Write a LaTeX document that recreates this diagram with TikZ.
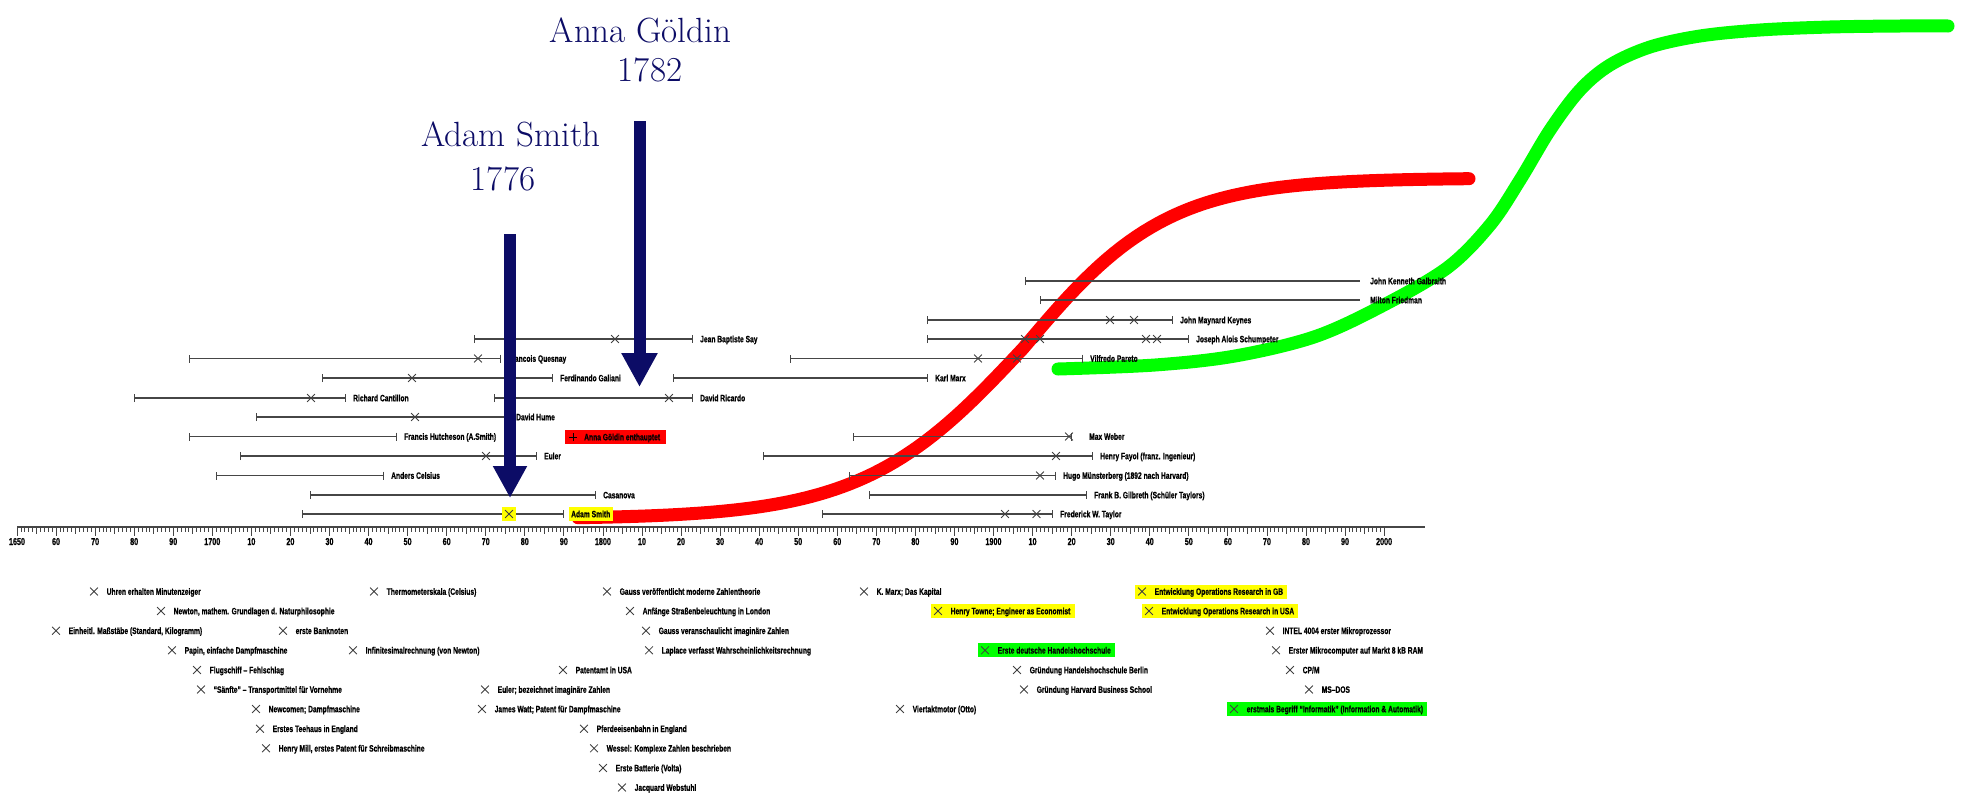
\documentclass[tikz,border=0pt]{standalone}
\usepackage{fontspec}
\newfontfamily\lblfont{Liberation Sans}[FakeStretch=0.72, FakeBold=0.6]
\usetikzlibrary{arrows.meta,shapes.misc,calc,backgrounds}
\definecolor{navy}{RGB}{12,12,102}
\definecolor{barcol}{RGB}{70,70,70}
\definecolor{hlyellow}{RGB}{255,255,0}
\definecolor{hlgreen}{RGB}{0,255,0}
\definecolor{hlred}{RGB}{255,0,0}
\tikzset{
  barline/.style={draw=barcol, line width=1.4pt, arrows={Bar[width=8pt]-Bar[width=8pt]}},
  openbar/.style={draw=barcol, line width=1.4pt, arrows={Bar[width=8pt]-}},
  xmark/.style={cross out, draw=black!75, line width=0.8pt, minimum size=7pt, inner sep=0pt},
  lbl/.style={font=\lblfont\bfseries\fontsize{9.3}{11}\selectfont, inner sep=0pt, anchor=base west},
  axlbl/.style={font=\lblfont\bfseries\fontsize{10}{12}\selectfont, inner sep=0pt, anchor=base},
  tick/.style={draw=barcol, line width=0.8pt},
  axisline/.style={draw=barcol, line width=2pt},
  titletext/.style={font=\fontsize{35}{40}\selectfont, text=navy, inner sep=0pt, anchor=base},
  navyarrow/.style={draw=navy, line width=12pt, arrows={-Triangle[width=34pt,length=34pt]}},
  scurve/.style={line width=13pt, line cap=round, line join=round},
}
% life span bar: name, start x, end x, row y, label
\newcommand{\lifebar}[5]{%
  \coordinate (#1-s) at (#2,#4);
  \coordinate (#1-e) at (#3,#4);
  \draw[barline] (#1-s) -- (#1-e);
  \node[lbl] (#1) at ($(#1-e)+(7,3.3)$) {#5};}
% cross mark on a bar
\newcommand{\mk}[3]{\node[xmark] (#1) at (#2,#3) {};}
% event: name, x, y, text
\newcommand{\evt}[4]{%
  \node[xmark] (#1-x) at (#2,#3) {};
  \node[lbl] (#1) at ($(#1-x)+(12.5,3.3)$) {#4};}
% highlighted background behind an event
\newcommand{\hl}[2]{%
  \begin{scope}[on background layer]
    \fill[#2] ($(#1-x)+(-7.5,-7)$) rectangle ($(#1-x -| #1.east)+(4,7)$);
  \end{scope}}
\begin{document}
\begin{tikzpicture}[x=1pt,y=-1pt]
\useasboundingbox (0,0) rectangle (1961,795);
\begin{scope}[on background layer]
  \fill[white] (0,0) rectangle (1961,795);
\end{scope}

% growth curves (logistic shapes)
\draw[scurve, draw=hlred]
  plot[domain=578:1023, samples=60] (\x,{519-341/(1+exp(-(\x-1023)/80))})
  -- plot[domain=1023:1469, samples=60] (\x,{519-341/(1+exp(-(\x-1023)/72))});
\draw[scurve, draw=hlgreen] plot[smooth, tension=0.55] coordinates {
  (1058,369) (1155,365) (1235,356) (1314,337) (1380,307) (1447,268)
  (1490,225) (1520,180) (1550,130) (1580,90) (1610,65) (1650,47)
  (1700,36) (1760,30) (1830,27) (1900,26) (1948,26)};

% time axis
\coordinate (ax-s) at (17,526.5);
\coordinate (ax-e) at (1425,526.5);
\draw[axisline] (ax-s) -- (ax-e);
\foreach \i in {0,...,350} \draw[tick] ({17+\i*3.906},527) -- ++(0,4.5);
\foreach \i in {0,5,...,350} \draw[tick] ({17+\i*3.906},527) -- ++(0,6.5);
\foreach \i in {0,10,...,350} \draw[tick] ({17+\i*3.906},527) -- ++(0,8.5);
\foreach \d/\t in {0/1650,1/60,2/70,3/80,4/90,5/1700,6/10,7/20,8/30,9/40,10/50,11/60,12/70,13/80,14/90,
  15/1800,16/10,17/20,18/30,19/40,20/50,21/60,22/70,23/80,24/90,
  25/1900,26/10,27/20,28/30,29/40,30/50,31/60,32/70,33/80,34/90,35/2000}
  \node[axlbl] (yr\d) at ({17+\d*39.06},545) {\t};

% life spans
\draw[openbar] (1025,281) coordinate (galbraith-s) -- (1360,281) coordinate (galbraith-e);
\node[lbl] (galbraith) at ($(galbraith-e)+(10,3.3)$) {John Kenneth Galbraith};
\draw[openbar] (1040,300) coordinate (friedman-s) -- (1360,300) coordinate (friedman-e);
\node[lbl] (friedman) at ($(friedman-e)+(10,3.3)$) {Milton Friedman};
\lifebar{keynes}{927}{1173}{320}{John Maynard Keynes}
\mk{keynes-m1}{1110}{320}\mk{keynes-m2}{1134}{320}
\lifebar{say}{474}{693}{339}{Jean Baptiste Say}
\mk{say-m1}{615}{339}
\lifebar{schumpeter}{927}{1189}{339}{Joseph Alois Schumpeter}
\mk{schumpeter-m1}{1025}{339}\mk{schumpeter-m2}{1040}{339}
\mk{schumpeter-m3}{1146}{339}\mk{schumpeter-m4}{1157}{339}
\lifebar{quesnay}{189}{501}{358.5}{Francois Quesnay}
\mk{quesnay-m1}{478}{358.5}
\lifebar{pareto}{790}{1083}{358.5}{Vilfredo Pareto}
\mk{pareto-m1}{978}{358.5}\mk{pareto-m2}{1017}{358.5}
\lifebar{galiani}{322}{553}{378}{Ferdinando Galiani}
\mk{galiani-m1}{412}{378}
\lifebar{marx}{673}{928}{378}{Karl Marx}
\lifebar{cantillon}{134}{346}{398}{Richard Cantillon}
\mk{cantillon-m1}{311}{398}
\lifebar{ricardo}{494}{693}{398}{David Ricardo}
\mk{ricardo-m1}{669}{398}
\lifebar{hume}{256}{509}{417}{David Hume}
\mk{hume-m1}{415}{417}
\lifebar{hutcheson}{189}{397}{436.5}{Francis Hutcheson (A.Smith)}
\coordinate (weber-s) at (853,436.5);
\coordinate (weber-e) at (1072,436.5);
\draw[barline] (weber-s) -- (weber-e);
\mk{weber-m1}{1069}{436.5}
\node[lbl] (weber) at ($(weber-e)+(17,3.3)$) {Max Weber};
\lifebar{euler}{240}{537}{456}{Euler}
\mk{euler-m1}{486}{456}
\lifebar{fayol}{763}{1093}{456}{Henry Fayol (franz. Ingenieur)}
\mk{fayol-m1}{1056}{456}
\lifebar{celsius}{216}{384}{475.5}{Anders Celsius}
\lifebar{muenster}{849}{1056}{475.5}{Hugo Münsterberg (1892 nach Harvard)}
\mk{muenster-m1}{1040}{475.5}
\lifebar{casanova}{310}{596}{495}{Casanova}
\lifebar{gilbreth}{868.5}{1087}{495}{Frank B. Gilbreth (Schüler Taylors)}
\coordinate (smith-s) at (302,514);
\coordinate (smith-e) at (564,514);
\draw[barline] (smith-s) -- (smith-e);
\node[fill=hlyellow, minimum size=14pt, inner sep=0pt] (smith-hx) at (509,514) {};
\mk{smith-m1}{509}{514}
\node[fill=hlyellow, minimum width=44pt, minimum height=14pt, inner sep=0pt, anchor=west] (smith-hb) at (569,514) {};
\node[lbl] (smith) at (571,517.3) {Adam Smith};
\lifebar{taylor}{822}{1053}{514}{Frederick W. Taylor}
\mk{taylor-m1}{1005}{514}\mk{taylor-m2}{1036.5}{514}

% execution of Anna Göldin
\node[fill=hlred, minimum width=101pt, minimum height=14pt, inner sep=0pt, anchor=north west] (goeldin-box) at (565,430) {};
\coordinate (goeldin-p) at (573,437);
\draw[black, line width=0.8pt] ($(goeldin-p)+(-4,0)$) -- ($(goeldin-p)+(4,0)$)
  ($(goeldin-p)+(0,-4)$) -- ($(goeldin-p)+(0,4)$);
\node[lbl] (goeldin) at (584,440.3) {Anna Göldin enthauptet};

% events below the axis
\evt{e-uhren}{94}{591.5}{Uhren erhalten Minutenzeiger}
\evt{e-newton}{161}{611}{Newton, mathem. Grundlagen d. Naturphilosophie}
\evt{e-mass}{56}{630.7}{Einheitl. Maßstäbe (Standard, Kilogramm)}
\evt{e-bank}{283}{630.7}{erste Banknoten}
\evt{e-papin}{172}{650.3}{Papin, einfache Dampfmaschine}
\evt{e-infin}{353}{650.3}{Infinitesimalrechnung (von Newton)}
\evt{e-flug}{197}{670}{Flugschiff – Fehlschlag}
\evt{e-saenfte}{201}{689.5}{“Sänfte” – Transportmittel für Vornehme}
\evt{e-newcomen}{256}{709}{Newcomen; Dampfmaschine}
\evt{e-tee}{260}{728.7}{Erstes Teehaus in England}
\evt{e-mill}{266}{748.3}{Henry Mill, erstes Patent für Schreibmaschine}
\evt{e-thermo}{374}{591.5}{Thermometerskala (Celsius)}
\evt{e-patent}{563}{670}{Patentamt in USA}
\evt{e-euler}{485}{689.5}{Euler; bezeichnet imaginäre Zahlen}
\evt{e-watt}{482}{709}{James Watt; Patent für Dampfmaschine}
\evt{e-pferd}{584}{728.7}{Pferdeeisenbahn in England}
\evt{e-wessel}{594}{748.3}{Wessel: Komplexe Zahlen beschrieben}
\evt{e-volta}{603}{768}{Erste Batterie (Volta)}
\evt{e-jacq}{622}{787.5}{Jacquard Webstuhl}
\evt{e-gauss1}{607}{591.5}{Gauss veröffentlicht moderne Zahlentheorie}
\evt{e-licht}{630}{611}{Anfänge Straßenbeleuchtung in London}
\evt{e-gauss2}{646}{630.7}{Gauss veranschaulicht imaginäre Zahlen}
\evt{e-laplace}{649}{650.3}{Laplace verfasst Wahrscheinlichkeitsrechnung}
\evt{e-marx}{864}{591.5}{K. Marx; Das Kapital}
\evt{e-towne}{938}{611}{Henry Towne; Engineer as Economist}
\evt{e-hhs}{985}{650.3}{Erste deutsche Handelshochschule}
\evt{e-berlin}{1017}{670}{Gründung Handelshochschule Berlin}
\evt{e-harvard}{1024}{689.5}{Gründung Harvard Business School}
\evt{e-otto}{900}{709}{Viertaktmotor (Otto)}
\evt{e-orgb}{1142}{591.5}{Entwicklung Operations Research in GB}
\evt{e-orusa}{1149}{611}{Entwicklung Operations Research in USA}
\evt{e-intel}{1270}{630.7}{INTEL 4004 erster Mikroprozessor}
\evt{e-micro}{1276}{650.3}{Erster Mikrocomputer auf Markt 8 kB RAM}
\evt{e-cpm}{1290}{670}{CP/M}
\evt{e-msdos}{1309}{689.5}{MS–DOS}
\evt{e-inf}{1234}{709}{erstmals Begriff “Informatik” (Information \& Automatik)}
\hl{e-towne}{hlyellow}
\hl{e-hhs}{hlgreen}
\hl{e-orgb}{hlyellow}
\hl{e-orusa}{hlyellow}
\hl{e-inf}{hlgreen}

% headline arrows
\node[titletext] (anna) at (640.5,42) {Anna Göldin};
\node[titletext] (anna-yr) at (650,81) {1782};
\node[titletext] (smith-t) at (511,146) {Adam Smith};
\node[titletext] (smith-yr) at (503,190) {1776};
\coordinate (anna-top) at (639.5,121);
\coordinate (anna-tip) at (639.5,387);
\draw[navyarrow] (anna-top) -- (anna-tip);
\coordinate (smith-top) at (510,234);
\coordinate (smith-tip) at (510,498);
\draw[navyarrow, arrows={-Triangle[width=32pt,length=32pt]}] (smith-top) -- (smith-tip);
\end{tikzpicture}
\end{document}
